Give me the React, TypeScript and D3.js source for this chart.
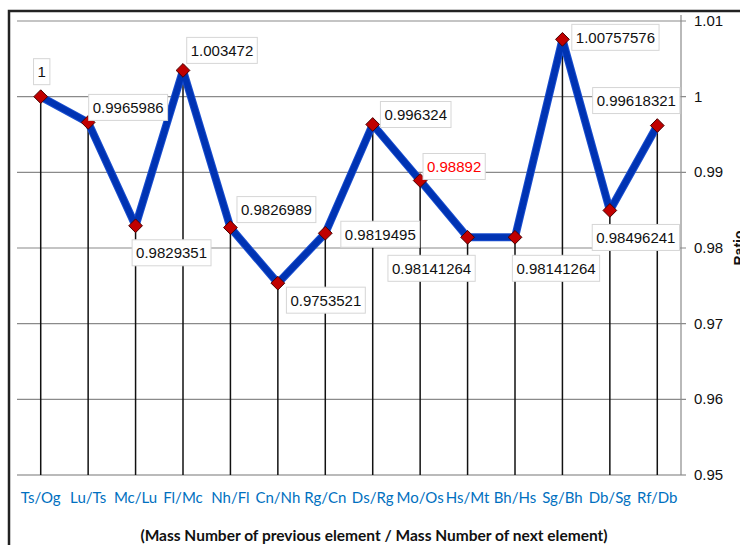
import React, { useEffect, useRef } from "react";
import * as d3 from "d3";

const categories = ["Ts/Og", "Lu/Ts", "Mc/Lu", "Fl/Mc", "Nh/Fl", "Cn/Nh", "Rg/Cn", "Ds/Rg", "Mo/Os", "Hs/Mt", "Bh/Hs", "Sg/Bh", "Db/Sg", "Rf/Db"];
const ratios = [1, 0.9965986, 0.9829351, 1.003472, 0.9826989, 0.9753521, 0.9819495, 0.996324, 0.98892, 0.98141264, 0.98141264, 1.00757576, 0.98496241, 0.99618321];
const yTicks = [0.95, 0.96, 0.97, 0.98, 0.99, 1, 1.01];
const highlightIndex = 8;
// label placement offsets (label centre relative to the marker)
const labelOffsets: [number, number][] = [
  [1, -25], [40, -15], [36, 27], [39, -20], [46, -18], [48, 17], [55, 1],
  [43, -10], [34, -14], [-36, 31], [41, 31], [53, -2], [26, 27], [-21, -25],
];
const xTitle = "(Mass Number of previous element / Mass Number of next element)";
const yTitle = "Ratio";

export default function App() {
  const ref = useRef<SVGSVGElement | null>(null);

  useEffect(() => {
    const svg = d3.select(ref.current);
    svg.selectAll("*").remove();
    const W = 740, H = 545;
    const left = 17, right = 681, top = 21, bottom = 475;

    const x = d3.scaleBand<string>().domain(categories).range([left, right]).padding(0);
    const y = d3.scaleLinear().domain([0.95, 1.01]).range([bottom, top]);
    const cx = (i: number) => (x(categories[i]) as number) + x.bandwidth() / 2;

    svg.append("rect").attr("width", W).attr("height", H).attr("fill", "#fff");

    // outer frame
    svg.append("path").attr("d", `M9,${H + 5} L9,11 L${W + 5},11`)
      .attr("fill", "none").attr("stroke", "#222").attr("stroke-width", 2.5);

    // gridlines
    svg.append("g").selectAll("line").data(yTicks).join("line")
      .attr("x1", left).attr("x2", right + 5)
      .attr("y1", d => y(d)).attr("y2", d => y(d))
      .attr("stroke", d => (d === 0.95 ? "#777" : "#8a8a8a")).attr("stroke-width", 1.2);

    // right axis
    svg.append("line").attr("x1", right).attr("x2", right).attr("y1", top - 6).attr("y2", bottom)
      .attr("stroke", "#8a8a8a").attr("stroke-width", 1.2);
    svg.append("g").selectAll("text").data(yTicks).join("text")
      .attr("x", 694).attr("y", d => y(d) + 5)
      .attr("font-family", "'Liberation Sans', Arial, sans-serif").attr("font-size", 15)
      .attr("fill", "#111").text(d => String(d));

    svg.append("text")
      .attr("transform", `translate(744, ${y(0.98)}) rotate(-90)`)
      .attr("text-anchor", "middle")
      .attr("font-family", "'Liberation Sans', Arial, sans-serif").attr("font-size", 14).attr("font-weight", "bold")
      .attr("fill", "#111").text(yTitle);

    // drop lines
    svg.append("g").selectAll("line").data(ratios).join("line")
      .attr("x1", (_d, i) => cx(i)).attr("x2", (_d, i) => cx(i))
      .attr("y1", d => y(d)).attr("y2", bottom)
      .attr("stroke", "#111").attr("stroke-width", 1.5);

    // line
    const line = d3.line<number>().x((_d, i) => cx(i)).y(d => y(d));
    svg.append("path").datum(ratios).attr("d", line)
      .attr("fill", "none").attr("stroke", "#1a4fd0").attr("stroke-width", 8).attr("stroke-linejoin", "round");
    svg.append("path").datum(ratios).attr("d", line)
      .attr("fill", "none").attr("stroke", "#0033b3").attr("stroke-width", 6).attr("stroke-linejoin", "round");

    // markers
    const sym = d3.symbol().type(d3.symbolDiamond2).size(120);
    svg.append("g").selectAll("path").data(ratios).join("path")
      .attr("d", sym as any)
      .attr("transform", (d, i) => `translate(${cx(i)},${y(d)})`)
      .attr("fill", "#c00000").attr("stroke", "#4a0000").attr("stroke-width", 1);

    // data labels
    const lg = svg.append("g");
    ratios.forEach((v, i) => {
      const [dx, dy] = labelOffsets[i];
      const px = cx(i) + dx, py = y(v) + dy;
      const g = lg.append("g");
      const rect = g.append("rect");
      const t = g.append("text")
        .attr("x", px).attr("y", py + 5.5).attr("text-anchor", "middle")
        .attr("font-family", "'Liberation Sans', Arial, sans-serif").attr("font-size", 15)
        .attr("fill", i === highlightIndex ? "#ff0000" : "#111").text(String(v));
      const w = (t.node() as SVGTextElement).getComputedTextLength();
      rect.attr("x", px - w / 2 - 4).attr("y", py - 13).attr("width", w + 8).attr("height", 26)
        .attr("fill", "#fff").attr("stroke", "#d6d6d6").attr("stroke-width", 1);
    });

    // category labels
    svg.append("g").selectAll("text").data(categories).join("text")
      .attr("x", d => (x(d) as number) + x.bandwidth() / 2).attr("y", 503)
      .attr("text-anchor", "middle")
      .attr("font-family", "Lato, 'Open Sans', sans-serif").attr("font-size", 15)
      .attr("fill", "#0070c0").text(d => d);

    svg.append("text").attr("x", 374).attr("y", 541).attr("text-anchor", "middle")
      .attr("font-family", "Lato, 'Open Sans', sans-serif").attr("font-size", 15.5).attr("font-weight", "bold")
      .attr("fill", "#111").text(xTitle);
  }, []);

  return (
    <svg ref={ref} width={740} height={545}
      style={{ position: "absolute", left: 0, top: 0, display: "block" }} />
  );
}
